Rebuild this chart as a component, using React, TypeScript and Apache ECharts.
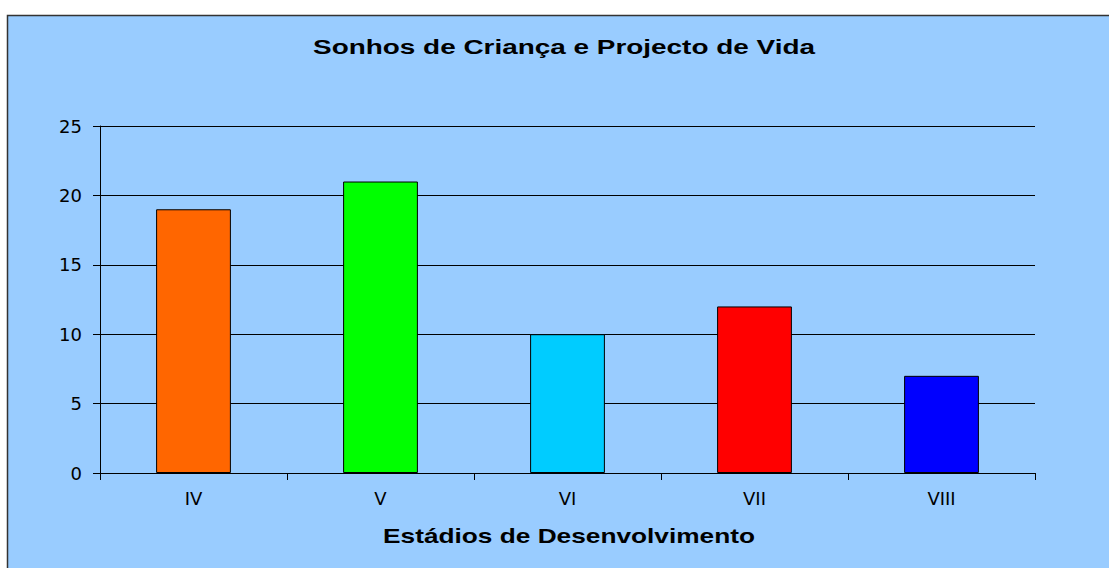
import React, { useEffect, useRef } from "react";
import * as echarts from "echarts";

const categories = ["IV", "V", "VI", "VII", "VIII"];
const values = [19, 21, 10, 12, 7];
const barColors = ["#FF6600", "#00FF00", "#00CCFF", "#FF0000", "#0000FF"];
const title = "Sonhos de Criança e Projecto de Vida";
const xAxisName = "Estádios de Desenvolvimento";

export default function App() {
  const ref = useRef<HTMLDivElement>(null);
  useEffect(() => {
    document.body.style.margin = "0";
    const chart = echarts.init(ref.current!, null, { renderer: "svg" });
    const font = "'Liberation Sans', Arial, sans-serif";
    const tickFont = "'DejaVu Sans', sans-serif";
    chart.setOption({
      animation: false,
      backgroundColor: "#FFFFFF",
      textStyle: { fontFamily: font },
      graphic: [
        {
          type: "rect",
          z: -10,
          silent: true,
          shape: { x: 7.5, y: 15.5, width: 1110, height: 560 },
          style: { fill: "#99CCFF", stroke: "#333333", lineWidth: 1.5 },
        },
        {
          type: "text",
          x: 564,
          y: 46.5,
          scaleX: 1.33,
          silent: true,
          style: {
            text: title,
            fontFamily: font,
            fontSize: 21,
            fontWeight: "bold",
            fill: "#000",
            align: "center",
            verticalAlign: "middle",
          },
        },
        {
          type: "text",
          x: 569,
          y: 535,
          scaleX: 1.25,
          silent: true,
          style: {
            text: xAxisName,
            fontFamily: font,
            fontSize: 21,
            fontWeight: "bold",
            fill: "#000",
            align: "center",
            verticalAlign: "middle",
          },
        },
      ],
      grid: { left: 100, top: 126, width: 935, height: 347, containLabel: false },
      xAxis: {
        type: "category",
        data: categories,
        axisLine: { lineStyle: { color: "#000", width: 1 } },
        axisTick: { show: true, length: 7, lineStyle: { color: "#000" } },
        axisLabel: { fontFamily: tickFont, fontSize: 18, color: "#000", margin: 16 },
      },
      yAxis: {
        type: "value",
        min: 0,
        max: 25,
        interval: 5,
        axisLine: { show: true, lineStyle: { color: "#000", width: 1 } },
        axisTick: { show: true, length: 7, lineStyle: { color: "#000" } },
        axisLabel: { fontFamily: tickFont, fontSize: 18, color: "#000", margin: 18 },
        splitLine: { show: true, lineStyle: { color: "#000", width: 1 } },
      },
      series: [
        {
          type: "bar",
          barWidth: "40%",
          data: values.map((v, i) => ({
            value: v,
            itemStyle: { color: barColors[i], borderColor: "#000", borderWidth: 1 },
          })),
        },
      ],
    });
    return () => chart.dispose();
  }, []);
  return (
    <div
      ref={ref}
      style={{ position: "fixed", left: 0, top: 0, width: 1109, height: 568 }}
    />
  );
}
